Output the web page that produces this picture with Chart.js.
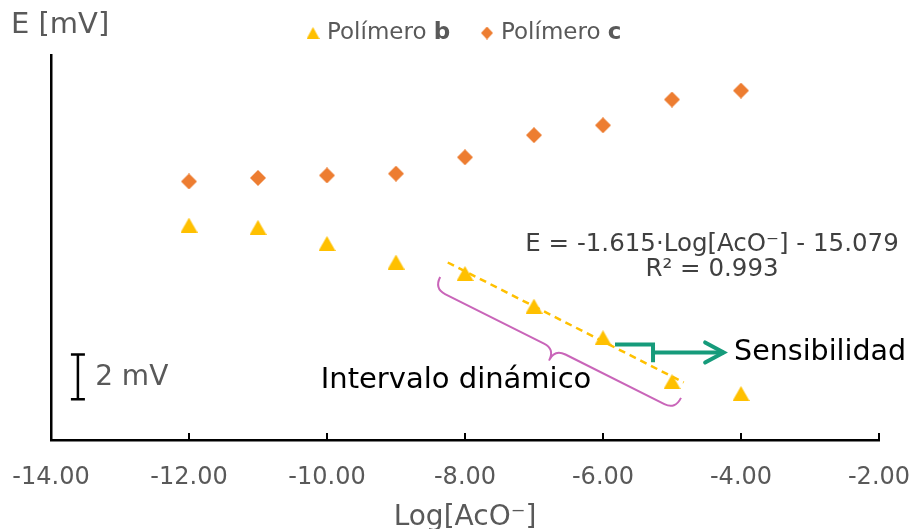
<!DOCTYPE html>
<html>
<head>
<meta charset="utf-8">
<script src="https://cdn.jsdelivr.net/npm/chart.js@4.4.1/dist/chart.umd.min.js"></script>
<style>
html, body { margin: 0; padding: 0; background: #fff; }
canvas { display: block; }
</style>
</head>
<body>
<canvas id="chart" width="913" height="529"></canvas>
<script>
// data (E in mV)
const logConc = [-12, -11, -10, -9, -8, -7, -6, -5, -4];
const polymerB = [0.00, -0.10, -0.82, -1.65, -2.16, -3.62, -5.03, -6.99, -7.52];
const polymerC = [1.95, 2.11, 2.22, 2.30, 3.03, 4.02, 4.46, 5.61, 6.01];
const trendX = [-8.25, -4.83];
const trendY = [-1.67, -7.03];
const xTicks = [-14, -12, -10, -8, -6, -4, -2];
const seriesNames = ['Polímero ', 'Polímero '];
const seriesTags = ['b', 'c'];
const equationLines = ['E = -1.615·Log[AcO⁻] - 15.079', 'R² = 0.993'];

const FONT = '"DejaVu Sans", Verdana, sans-serif';
const YELLOW = '#FFC000';
const ORANGE = '#ED7D31';
const GREY = '#595959';

function pts(xs, ys) {
    return xs.map((x, i) => ({ x: x, y: ys[i] }));
}

// Excel style markers, centred on their bounding box
function marker(kind, w, h, color) {
    const c = document.createElement('canvas');
    c.width = w; c.height = h;
    const g = c.getContext('2d');
    g.fillStyle = color;
    g.beginPath();
    if (kind === 'tri') {
        g.moveTo(w / 2, 0); g.lineTo(w, h); g.lineTo(0, h);
    } else {
        g.moveTo(w / 2, 0); g.lineTo(w, h / 2); g.lineTo(w / 2, h); g.lineTo(0, h / 2);
    }
    g.closePath();
    g.fill();
    return c;
}
const triMark = marker('tri', 17, 15, YELLOW);
const diaMark = marker('dia', 16, 16, ORANGE);
const triSmall = marker('tri', 13, 12, YELLOW);
const diaSmall = marker('dia', 12, 13, ORANGE);

// curly brace between two pixel points, cusp on the left-hand side
function drawBrace(ctx, x1, y1, x2, y2, h, w, r) {
    const L = Math.hypot(x2 - x1, y2 - y1);
    const ex = (x2 - x1) / L, ey = (y2 - y1) / L;
    const nx = -ey, ny = ex;
    const P = (u, v) => [x1 + u * ex + v * nx, y1 + u * ey + v * ny];
    const m = L / 2;
    ctx.strokeStyle = '#C965B9';
    ctx.lineWidth = 2;
    ctx.lineJoin = 'round';
    ctx.beginPath();
    let p = P(0, 0); ctx.moveTo(p[0], p[1]);
    let c = P(0, h); p = P(r, h); ctx.quadraticCurveTo(c[0], c[1], p[0], p[1]);
    p = P(m - r, h); ctx.lineTo(p[0], p[1]);
    c = P(m, h); p = P(m, w); ctx.quadraticCurveTo(c[0], c[1], p[0], p[1]);
    p = P(m + r, h); ctx.quadraticCurveTo(c[0], c[1], p[0], p[1]);
    p = P(L - r, h); ctx.lineTo(p[0], p[1]);
    c = P(L, h); p = P(L, 0); ctx.quadraticCurveTo(c[0], c[1], p[0], p[1]);
    ctx.stroke();
}

// everything Excel drew by hand on top of the plot
const extras = {
    id: 'extras',
    afterDraw(chart) {
        const ctx = chart.ctx;
        const xs = chart.scales.x, ys = chart.scales.y;
        const px = v => xs.getPixelForValue(v);
        const py = v => ys.getPixelForValue(v);
        const area = chart.chartArea;
        ctx.save();

        // inside tick marks on the x axis
        ctx.strokeStyle = '#000';
        ctx.lineWidth = 2;
        xTicks.forEach(t => {
            ctx.beginPath();
            ctx.moveTo(px(t), area.bottom);
            ctx.lineTo(px(t), area.bottom - 7);
            ctx.stroke();
        });

        // y title
        ctx.fillStyle = GREY;
        ctx.font = '29px ' + FONT;
        ctx.textAlign = 'left';
        ctx.textBaseline = 'middle';
        ctx.fillText('E [mV]', 11, 25);

        // legend
        const legendX = [313, 487];
        const legendMarks = [triSmall, diaSmall];
        legendX.forEach((lx, i) => {
            const mk = legendMarks[i];
            ctx.drawImage(mk, lx - mk.width / 2, 33 - mk.height / 2);
            ctx.fillStyle = GREY;
            ctx.font = '23px ' + FONT;
            const tx = lx + 14;
            ctx.fillText(seriesNames[i], tx, 33);
            const w = ctx.measureText(seriesNames[i]).width;
            ctx.font = 'bold 23px ' + FONT;
            ctx.fillText(seriesTags[i], tx + w, 33);
        });

        // trendline equation
        ctx.font = '24.5px ' + FONT;
        ctx.fillStyle = '#404040';
        ctx.textAlign = 'center';
        ctx.fillText(equationLines[0], px(-4.42), py(-0.86));
        ctx.fillText(equationLines[1], px(-4.42), py(-1.97));

        // curly brace under the linear range
        drawBrace(ctx, px(-8.36), py(-2.32), px(-4.87), py(-7.72), 13, 25, 12);

        ctx.fillStyle = '#000';
        ctx.font = '29px ' + FONT;
        ctx.fillText('Intervalo dinámico', px(-8.13), py(-6.93));

        // sensitivity bracket and arrow
        ctx.strokeStyle = '#169B7B';
        ctx.lineWidth = 4;
        ctx.lineJoin = 'miter';
        ctx.beginPath();
        ctx.moveTo(px(-5.826), py(-5.33));
        ctx.lineTo(px(-5.275), py(-5.33));
        ctx.lineTo(px(-5.275), py(-6.13));
        ctx.stroke();
        ctx.beginPath();
        ctx.moveTo(px(-5.275), py(-5.69));
        ctx.lineTo(px(-4.25), py(-5.69));
        ctx.stroke();
        ctx.lineCap = 'round';
        ctx.beginPath();
        ctx.moveTo(px(-4.52), py(-5.24));
        ctx.lineTo(px(-4.25), py(-5.69));
        ctx.lineTo(px(-4.52), py(-6.14));
        ctx.stroke();

        ctx.fillStyle = '#000';
        ctx.font = '28.5px ' + FONT;
        ctx.textAlign = 'left';
        ctx.fillText('Sensibilidad', px(-4.10), py(-5.69));

        // 2 mV scale bar
        const sx = px(-13.61);
        ctx.strokeStyle = '#000';
        ctx.lineWidth = 2.5;
        ctx.lineCap = 'butt';
        ctx.beginPath();
        ctx.moveTo(sx, py(-5.78)); ctx.lineTo(sx, py(-7.78));
        ctx.moveTo(sx - 7, py(-5.78)); ctx.lineTo(sx + 7, py(-5.78));
        ctx.moveTo(sx - 7, py(-7.78)); ctx.lineTo(sx + 7, py(-7.78));
        ctx.stroke();
        ctx.fillStyle = GREY;
        ctx.font = '28px ' + FONT;
        ctx.fillText('2 mV', px(-13.36), py(-6.80));

        ctx.restore();
    }
};

new Chart(document.getElementById('chart'), {
    type: 'scatter',
    data: {
        datasets: [
            {
                label: 'Polímero b',
                data: pts(logConc, polymerB),
                pointStyle: triMark,
                backgroundColor: YELLOW,
                borderColor: YELLOW
            },
            {
                label: 'Polímero c',
                data: pts(logConc, polymerC),
                pointStyle: diaMark,
                backgroundColor: ORANGE,
                borderColor: ORANGE
            },
            {
                label: 'Lineal',
                type: 'line',
                data: pts(trendX, trendY),
                showLine: true,
                pointRadius: 0,
                borderColor: YELLOW,
                borderWidth: 2.5,
                borderDash: [7, 5],
                fill: false
            }
        ]
    },
    options: {
        responsive: false,
        animation: false,
        devicePixelRatio: 1,
        layout: { padding: { top: 55, right: 34, left: 0, bottom: 0 } },
        plugins: {
            legend: { display: false },
            tooltip: { enabled: false }
        },
        scales: {
            x: {
                type: 'linear',
                min: -14,
                max: -2,
                afterFit: s => { s.height = 89; s.paddingLeft = 0; s.paddingRight = 0; },
                afterBuildTicks: s => { s.ticks = xTicks.map(v => ({ value: v })); },
                ticks: {
                    color: GREY,
                    font: { family: FONT, size: 24 },
                    padding: 23,
                    maxRotation: 0,
                    callback: v => v.toFixed(2)
                },
                grid: { display: false, drawTicks: false },
                border: { color: '#000', width: 2.5 },
                title: {
                    display: true,
                    text: 'Log[AcO⁻]',
                    color: GREY,
                    font: { family: FONT, size: 28 },
                    padding: { top: 0, bottom: -6 }
                }
            },
            y: {
                min: -9.6,
                max: 7.6,
                afterFit: s => { s.width = 51; },
                ticks: { display: false },
                grid: { display: false, drawTicks: false },
                border: { color: '#000', width: 2.5 }
            }
        }
    },
    plugins: [extras]
});
</script>
</body>
</html>
